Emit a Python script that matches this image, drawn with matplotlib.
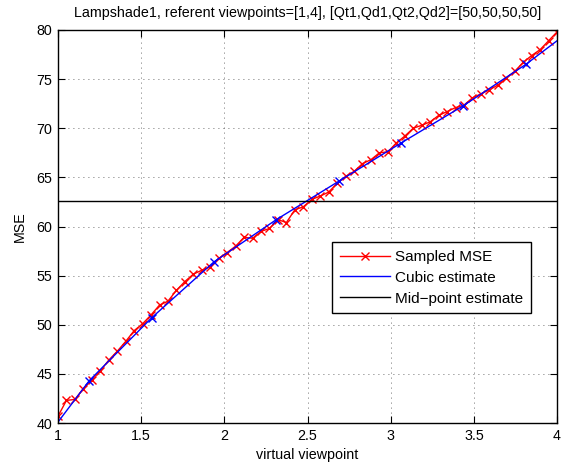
import numpy as np
import matplotlib
matplotlib.use('Agg')
import matplotlib.pyplot as plt

plt.rcParams['font.family'] = ['Liberation Sans', 'DejaVu Sans']
plt.rcParams['font.size'] = 10.3

# sampled MSE, 60 virtual viewpoints between 1 and 4
sampled_x = np.linspace(1, 4, 60)
sampled_mse = [40.7, 42.3, 42.4, 43.5, 44.4, 45.3, 46.4, 47.3, 48.3, 49.4,
               50.1, 51.0, 52.0, 52.4, 53.5, 54.4, 55.15, 55.55, 55.9, 56.75,
               57.35, 58.0, 58.9, 58.8, 59.5, 59.8, 60.7, 60.4, 61.7, 62.0,
               62.75, 63.1, 63.5, 64.4, 65.1, 65.6, 66.4, 66.8, 67.5, 67.6,
               68.5, 69.2, 70.0, 70.3, 70.65, 71.3, 71.7, 72.1, 72.35, 73.1,
               73.5, 73.9, 74.4, 75.1, 75.8, 76.7, 77.4, 78.0, 78.9, 79.8]

# cubic estimate, read at the marked points plus the ends
cubic_x = [1.0, 1.1875, 1.5625, 1.9375, 2.3125, 2.6875, 3.0625, 3.4375, 3.8125, 4.0]
cubic_mse = [40.1, 44.3, 50.7, 56.4, 60.7, 64.6, 68.5, 72.3, 76.5, 78.9]
marked_x = cubic_x[1:-1]
marked_mse = cubic_mse[1:-1]

midpoint_mse = 62.6

title = 'Lampshade1, referent viewpoints=[1,4], [Qt1,Qd1,Qt2,Qd2]=[50,50,50,50]'
xticks = [1, 1.5, 2, 2.5, 3, 3.5, 4]
xtick_labels = ['1', '1.5', '2', '2.5', '3', '3.5', '4']
yticks = [40, 45, 50, 55, 60, 65, 70, 75, 80]

fig = plt.figure(figsize=(5.61, 4.65), dpi=100)
ax = fig.add_axes([0.1034, 0.0903, 0.8895, 0.8452])

ax.plot(sampled_x, sampled_mse, color='red', lw=1, marker='x', ms=6, mew=1,
        label='Sampled MSE')
ax.plot(cubic_x, cubic_mse, color='blue', lw=1, label='Cubic estimate')
ax.plot(marked_x, marked_mse, color='blue', lw=0, marker='x', ms=6, mew=1)
ax.axhline(midpoint_mse, color='black', lw=1, label='Mid\u2212point estimate')

ax.set_xlim(1, 4)
ax.set_ylim(40, 80)
ax.set_xticks(xticks)
ax.set_xticklabels(xtick_labels)
ax.set_yticks(yticks)
ax.tick_params(direction='in', top=True, right=True, length=5, width=0.8, pad=4)
ax.grid(True, color='0.25', linestyle=(0, (1, 5)), lw=0.6)
for sp in ax.spines.values():
    sp.set_linewidth(1)

ax.set_title(title, fontsize=10.3, pad=9)
ax.set_xlabel('virtual viewpoint', labelpad=4)
ax.set_ylabel('MSE', labelpad=7)

leg = ax.legend(loc='upper right', bbox_to_anchor=(0.948, 0.46), fancybox=False,
                framealpha=1, edgecolor='black', handlelength=3.3,
                labelspacing=0.45, borderaxespad=0, handletextpad=0.35,
                borderpad=0.5, fontsize=11)
leg.get_frame().set_linewidth(1)

fig.savefig('out.png', dpi=100)
